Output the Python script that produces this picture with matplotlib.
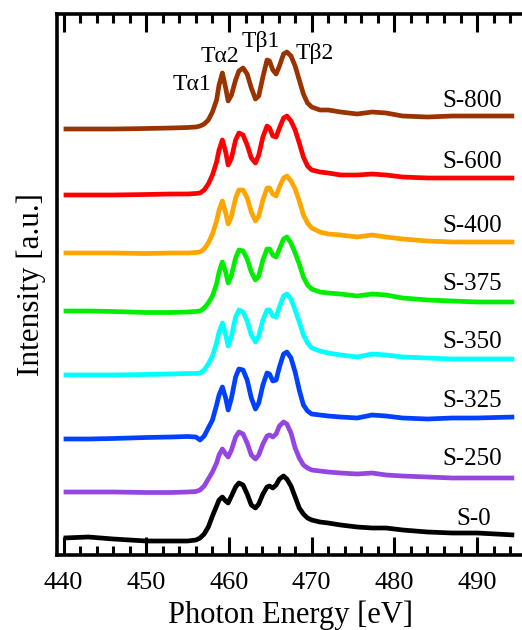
import matplotlib
matplotlib.use("Agg")
import matplotlib.pyplot as plt
from matplotlib.ticker import MultipleLocator

plt.rcParams['font.family'] = ['Liberation Serif', 'DejaVu Serif']

# photon energy grid [eV]
energy = [440, 443, 446, 450, 453, 455, 456, 456.5, 457, 457.5, 458, 458.5, 458.8,
          459.2, 459.6, 459.9, 460.3, 460.8, 461.2, 461.7, 462.2, 462.7, 463.2, 463.6,
          464.1, 464.6, 464.9, 465.3, 465.7, 466.1, 466.6, 467, 467.5, 468, 468.5, 469,
          469.5, 470, 471, 472, 473.5, 475.5, 477.3, 479, 481, 484, 487, 490, 494.5]

# intensity above pre-edge level (a.u.)
s800 = [0, 0, 0, 0.5, 1, 1.5, 2, 3, 5, 9, 17, 29, 44, 56, 41, 28, 34, 49, 58, 61, 55, 41, 30, 33,
        52, 69, 68, 59, 55, 63, 75, 77, 73, 63, 49, 35, 26, 22, 19, 19, 17, 15, 17, 16, 13, 12, 13, 13, 13]
s600 = [0, 0, 0, 0.5, 1, 1, 1.5, 2, 5, 11, 20, 33, 45, 55, 43, 30, 37, 55, 62, 60, 50, 37, 32, 40,
        58, 69, 67, 59, 58, 67, 77, 79, 74, 65, 52, 38, 29, 25, 23, 22, 20, 20, 21, 20, 18, 17, 17, 17, 17]
s400 = [0, 0, 0, -0.5, 0, 0, 0.5, 1, 4, 10, 19, 32, 43, 52, 40, 29, 37, 55, 63, 63, 55, 41, 32, 37,
        53, 65, 65, 59, 57, 66, 75, 77, 72, 64, 52, 38, 30, 25, 21, 19, 18, 16, 18, 16, 14, 12, 11, 11, 11]
s375 = [0, 0, -0.5, -1.5, -1.5, -1, -0.5, 0, 3, 8, 15, 27, 39, 49, 39, 28, 36, 53, 61, 60, 52, 39, 31, 35,
        51, 62, 62, 56, 54, 62, 72, 74, 68, 58, 47, 34, 26, 22, 19, 18, 17, 15, 17, 16, 13, 11, 10, 9, 9]
s350 = [0, 0, 0, 0.5, 1, 1.5, 1.5, 2, 5, 11, 19, 32, 43, 52, 40, 29, 39, 58, 65, 63, 54, 40, 33, 39,
        55, 65, 65, 59, 58, 68, 79, 81, 76, 65, 53, 40, 32, 27, 24, 22, 20, 18, 21, 20, 18, 17, 16, 16, 16]
s325 = [0, 0, 0.5, 1.5, 2, 2.5, 2, -1, 3, 11, 19, 34, 44, 52, 41, 29, 41, 62, 70, 69, 59, 41, 30, 36,
        54, 66, 65, 58, 59, 72, 85, 87, 81, 67, 49, 34, 28, 25, 24, 23, 22, 21, 24, 23, 21, 20, 21, 21, 22]
s250 = [0, 0, 0, -0.5, -0.5, 0, 0.5, 2, 6, 13, 20, 29, 37, 43, 38, 35, 42, 55, 60, 58, 49, 37, 33, 37,
        48, 56, 57, 55, 58, 66, 70, 68, 59, 44, 34, 27, 24, 22, 21, 20, 19, 18, 19, 17, 16, 15, 14, 14, 14]
s0 = [0, 1, -1, -3, -3, -3, -2, 0, 4, 11, 22, 32, 38, 41, 37, 35, 42, 51, 55, 53, 44, 33, 30, 34,
      44, 51, 52, 50, 53, 59, 62, 59, 52, 41, 30, 24, 20, 18, 16, 15, 13, 11, 10, 10, 8, 6, 5, 5, 3]

spectra = [s800, s600, s400, s375, s350, s325, s250, s0]
names = ["S-800", "S-600", "S-400", "S-375", "S-350", "S-325", "S-250", "S-0"]
offsets = [426, 360, 302, 244, 180, 116, 63, 17]
label_y = [448, 387, 323, 265, 207, 148, 90, 30]
label_x = [493.0, 493.0, 493.0, 493.0, 493.0, 493.0, 493.0, 491.7]
colors = ["#993300", "#ff0000", "#ffa500", "#00ee00", "#00ffff", "#0040ff", "#9445e2", "#000000"]

peak_names = ["T\u03b11", "T\u03b12", "T\u03b21", "T\u03b22"]
peak_x = [455.5, 458.9, 463.9, 470.35]
peak_y = [465, 493, 508, 496]

fig = plt.figure(figsize=(5.22, 6.3), dpi=100)
ax = fig.add_axes([57 / 522, 75 / 630, 468 / 522, 541 / 630])

for spec, off, col in zip(spectra, offsets, colors):
    ax.plot(energy, [off + v for v in spec], color=col, lw=3.4, solid_capstyle='butt')

for name, x, y in zip(names, label_x, label_y):
    ax.text(x, y, name, ha='right', va='baseline', fontsize=18)

for name, x, y in zip(peak_names, peak_x, peak_y):
    ax.text(x, y, name, ha='center', va='baseline', fontsize=17)

ax.set_xlim(439.2, 495.8)
ax.set_ylim(0, 541)
ax.xaxis.set_major_locator(MultipleLocator(10))
ax.xaxis.set_minor_locator(MultipleLocator(2))
ax.set_yticks([])
ax.tick_params(axis='x', which='both', direction='in', top=True, bottom=True, width=2.2,
               labelsize=19, pad=12)
ax.tick_params(axis='x', which='major', length=13)
ax.tick_params(axis='x', which='minor', length=6.5)
for sp in ax.spines.values():
    sp.set_linewidth(2.6)

ax.set_xlabel("Photon Energy [eV]", fontsize=22, labelpad=5)
ax.set_ylabel("Intensity [a.u.]", fontsize=22.5)
ax.yaxis.set_label_coords(-11 / 468, 0.5)

fig.savefig("out.png", dpi=100)
